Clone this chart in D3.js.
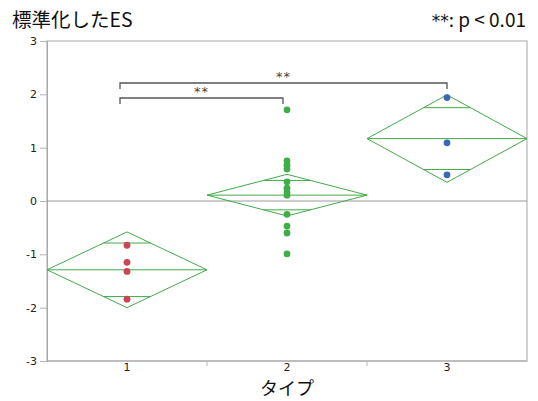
<!DOCTYPE html>
<html>
<head>
<meta charset="utf-8">
<script src="https://cdn.jsdelivr.net/npm/d3@7"></script>
<style>
  body { margin: 0; background: #fff; }
  svg { display: block; font-family: "Noto Sans CJK JP", "Noto Sans", sans-serif; }
</style>
</head>
<body>
<svg id="chart" width="538" height="401"></svg>
<script>
// Groups and their observations (standardized ES)
const categories = ["1", "2", "3"];
const valuesType1 = [-0.83, -1.15, -1.32, -1.84];
const valuesType2 = [1.71, 0.75, 0.67, 0.60, 0.36, 0.24, 0.17, 0.11, -0.25, -0.47, -0.60, -0.99];
const valuesType3 = [1.94, 1.09, 0.49];
// Group means and 95% CI half-widths (means diamonds)
const groupMeans = [-1.29, 0.11, 1.17];
const ciHalfWidths = [0.71, 0.39, 0.82];
const pointColors = ["#cc4455", "#3fae49", "#3b68b3"];
const yTicks = [-3, -2, -1, 0, 1, 2, 3];
// Significant pairwise comparisons
const comparisons = [
  { a: "1", b: "2", label: "**", level: 0 },
  { a: "1", b: "3", label: "**", level: 1 }
];

const svg = d3.select("#chart");
const margin = { left: 47, right: 11, top: 41, bottom: 40 };
const W = 538, H = 401;
const plotW = W - margin.left - margin.right;
const plotH = H - margin.top - margin.bottom;

const band = d3.scaleBand().domain(categories).range([margin.left, margin.left + plotW]).padding(0);
const xc = c => band(c) + band.bandwidth() / 2;
const y = d3.scaleLinear().domain([-3, 3]).range([margin.top + plotH, margin.top]);

// Frame
svg.append("rect")
  .attr("x", margin.left).attr("y", margin.top)
  .attr("width", plotW).attr("height", plotH)
  .attr("fill", "none").attr("stroke", "#b4b4b4").attr("stroke-width", 1.2);

// Y axis (plain hyphen for negatives)
const yAxis = svg.append("g")
  .attr("transform", `translate(${margin.left},0)`)
  .call(d3.axisLeft(y).tickValues(yTicks).tickSize(7).tickPadding(3).tickFormat(d => String(d)));
yAxis.select(".domain").attr("stroke", "#a8a8a8");
yAxis.selectAll(".tick line").attr("stroke", "#b4b4b4");
yAxis.selectAll(".tick text").attr("fill", "#222")
  .attr("font-family", "'DejaVu Sans', sans-serif").attr("font-size", 11);

// X axis: labels at group centers, ticks at group boundaries
const xAxisG = svg.append("g").attr("transform", `translate(0,${margin.top + plotH})`);
xAxisG.append("line")
  .attr("x1", margin.left).attr("x2", margin.left + plotW)
  .attr("stroke", "#a8a8a8").attr("stroke-width", 1.2);
categories.slice(1).forEach(c => {
  xAxisG.append("line")
    .attr("x1", band(c)).attr("x2", band(c)).attr("y1", 0).attr("y2", 5)
    .attr("stroke", "#b4b4b4");
});
categories.forEach(c => {
  xAxisG.append("text")
    .attr("x", xc(c)).attr("y", 10)
    .attr("text-anchor", "middle")
    .attr("font-family", "'DejaVu Sans', sans-serif")
    .attr("font-size", 11).attr("fill", "#222")
    .text(c);
});

// Zero reference line
svg.append("line")
  .attr("x1", margin.left).attr("x2", margin.left + plotW)
  .attr("y1", y(0)).attr("y2", y(0))
  .attr("stroke", "#9a9a9a").attr("stroke-width", 1);

// Means diamonds with overlap marks
const diamondColor = "#43aa4a";
categories.forEach((c, i) => {
  const x0 = band(c), x1 = band(c) + band.bandwidth(), xm = xc(c);
  const m = groupMeans[i], h = ciHalfWidths[i];
  const g = svg.append("g").attr("fill", "none").attr("stroke", diamondColor).attr("stroke-width", 1);
  g.append("path").attr("d", d3.line()([
    [x0, y(m)], [xm, y(m + h)], [x1, y(m)], [xm, y(m - h)], [x0, y(m)]
  ]));
  g.append("line").attr("x1", x0).attr("x2", x1).attr("y1", y(m)).attr("y2", y(m));
  const o = h / Math.SQRT2;
  const frac = 1 - o / h;
  const half = band.bandwidth() / 2 * frac;
  [m + o, m - o].forEach(v => {
    g.append("line")
      .attr("x1", xm - half).attr("x2", xm + half)
      .attr("y1", y(v)).attr("y2", y(v));
  });
});

// Observations
[valuesType1, valuesType2, valuesType3].forEach((vals, i) => {
  svg.append("g").selectAll("circle").data(vals).join("circle")
    .attr("cx", xc(categories[i]))
    .attr("cy", d => y(d))
    .attr("r", 3.4)
    .attr("fill", pointColors[i]);
});

// Significance brackets
comparisons.forEach(cmp => {
  const by = 98 - cmp.level * 15;
  const xa = xc(cmp.a) - 7;
  const xb = cmp.b === "3" ? xc(cmp.b) : xc(cmp.b) - 4;
  svg.append("path")
    .attr("d", d3.line()([[xa, by + 6], [xa, by], [xb, by], [xb, by + 6]]))
    .attr("fill", "none").attr("stroke", "#555").attr("stroke-width", 1.3);
  svg.append("text")
    .attr("x", (xa + xb) / 2).attr("y", by - 2)
    .attr("text-anchor", "middle")
    .attr("font-family", "'DejaVu Sans', sans-serif")
    .attr("font-size", 13).attr("letter-spacing", 1).attr("fill", "#444")
    .text(cmp.label);
});

// Titles
svg.append("text")
  .attr("x", 12).attr("y", 27)
  .attr("font-size", 19.5).attr("fill", "#111")
  .text("標準化したES");
const note = svg.append("text")
  .attr("x", 526).attr("y", 27)
  .attr("text-anchor", "end")
  .attr("font-size", 19).attr("fill", "#111");
note.append("tspan").attr("font-family", "'DejaVu Sans', sans-serif").attr("font-size", 17).text("**");
note.append("tspan").text(": p < 0.01");
svg.append("text")
  .attr("x", xc("2")).attr("y", 395)
  .attr("text-anchor", "middle")
  .attr("font-size", 18).attr("fill", "#111")
  .text("タイプ");
</script>
</body>
</html>
